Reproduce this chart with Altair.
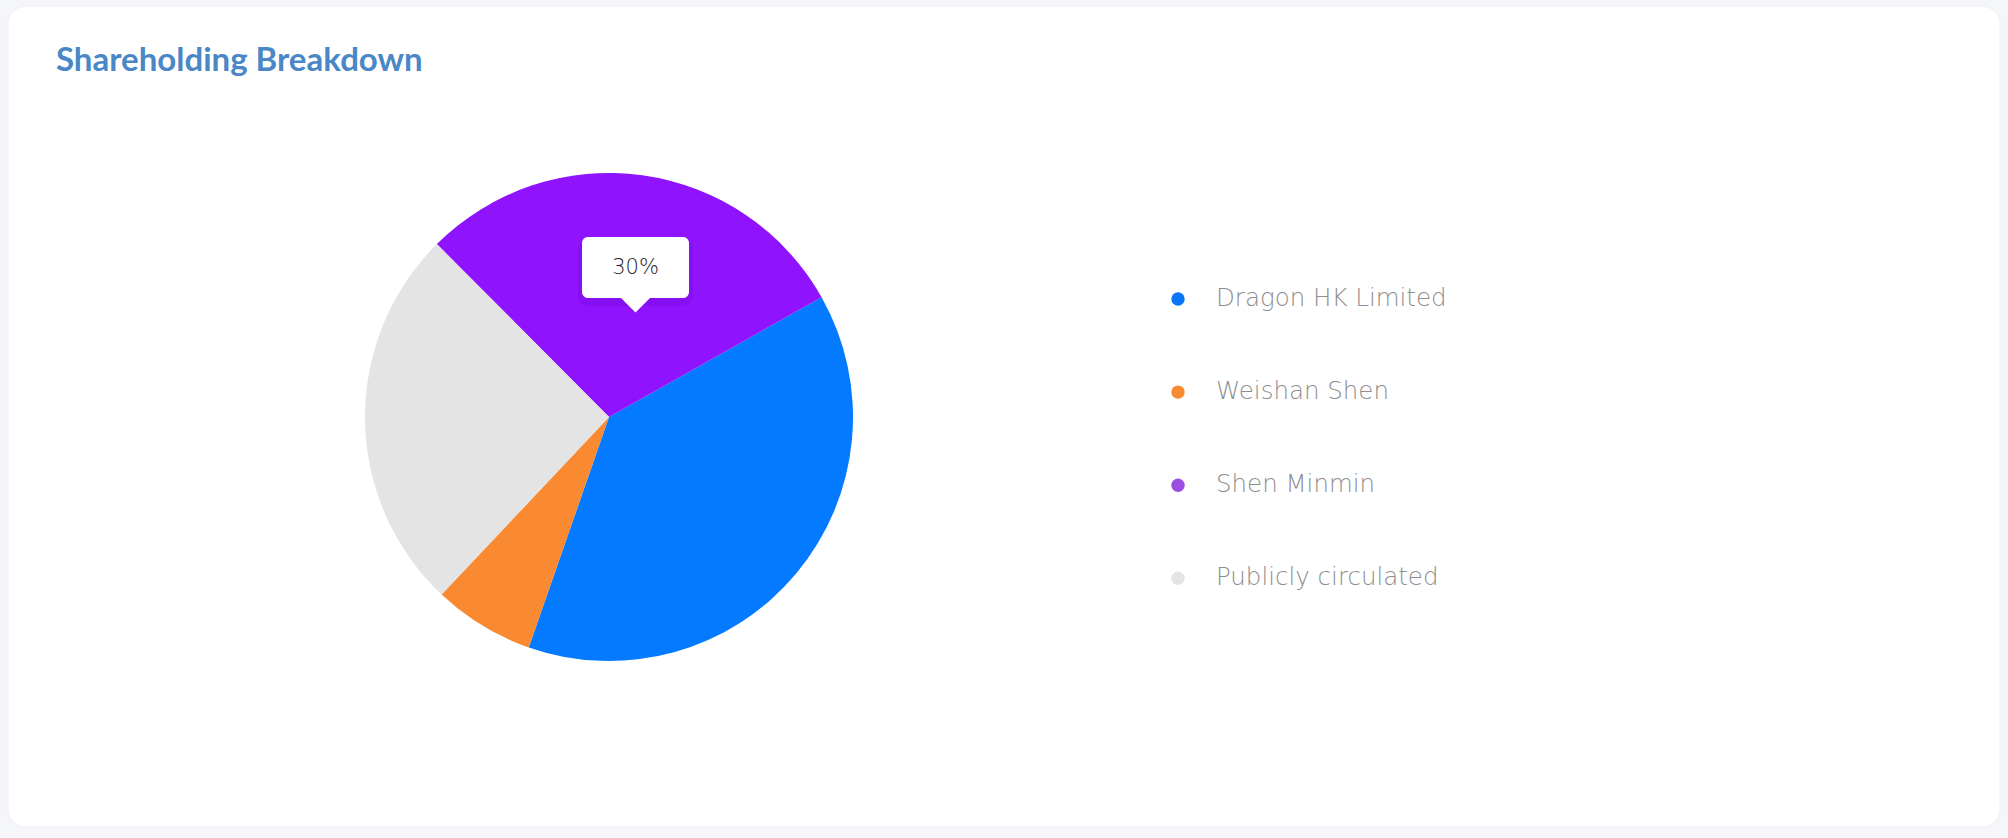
import math
import altair as alt
import pandas as pd

# ---- data ----
names = ["Dragon HK Limited", "Weishan Shen", "Shen Minmin", "Publicly circulated"]
shares = [38.5, 6.7, 29.3, 25.5]
slice_order = [1, 2, 4, 3]
slice_colors = ["#037AFF", "#FA8A32", "#9013FE", "#E4E4E4"]
legend_colors = ["#0A76F6", "#F88A30", "#9B4FE0", "#E4E4E4"]
title_text = "Shareholding Breakdown"
tooltip_label = ["30%"]

W, H = 2008, 838
start = math.radians(60.6)

df = pd.DataFrame({"name": names, "value": shares, "ord": slice_order})
leg = pd.DataFrame({"name": names, "lcolor": legend_colors})

card = alt.Chart(pd.DataFrame({"a": [0]})).mark_rect(
    fill="#FFFFFF", cornerRadius=18, stroke="#EEF0F5", strokeWidth=1
).encode(x=alt.value(8), x2=alt.value(2000), y=alt.value(6), y2=alt.value(827))

title = alt.Chart(pd.DataFrame({"t": [title_text]})).mark_text(
    align="left", baseline="alphabetic", font="Lato", fontWeight="bold",
    fontSize=33, color="#4A87C7"
).encode(x=alt.value(56), y=alt.value(71), text="t:N")

pie = alt.Chart(df).mark_arc(outerRadius=244).encode(
    theta=alt.Theta("value:Q", stack=True,
                    scale=alt.Scale(range=[start, start + 2 * math.pi])),
    order=alt.Order("ord:Q"),
    color=alt.Color("name:N", scale=alt.Scale(domain=names, range=slice_colors), legend=None),
    x=alt.value(609), y=alt.value(417),
)

tipdf = pd.DataFrame({"t": tooltip_label})
tip_shadow = alt.Chart(tipdf).mark_rect(
    fill="#5a00b0", opacity=0.15, cornerRadius=10
).encode(x=alt.value(578), x2=alt.value(693), y=alt.value(239), y2=alt.value(306))
tip_box = alt.Chart(tipdf).mark_rect(fill="#FFFFFF", cornerRadius=6).encode(
    x=alt.value(582), x2=alt.value(689), y=alt.value(237), y2=alt.value(298))
tip_arrow = alt.Chart(tipdf).mark_point(
    shape="M-1,0L1,0L0,1Z", filled=True, fill="#FFFFFF", opacity=1, size=900, strokeWidth=0
).encode(x=alt.value(635.5), y=alt.value(297.5))
tip_text = alt.Chart(tipdf).mark_text(
    font="DejaVu Sans", fontWeight=200, fontSize=21, color="#1E1E1E",
    align="center", baseline="middle"
).encode(x=alt.value(635.5), y=alt.value(268), text="t:N")

yscale = alt.Scale(domain=names, range=[299, 578.3], padding=0)
leg_dots = alt.Chart(leg).mark_circle(size=180, opacity=1).encode(
    x=alt.value(1178),
    y=alt.Y("name:N", scale=yscale, axis=None),
    color=alt.Color("lcolor:N", scale=None, legend=None),
)
leg_text = alt.Chart(leg).mark_text(
    align="left", baseline="middle", font="DejaVu Sans", fontWeight=200,
    fontSize=24.5, color="#8E8E8E"
).encode(
    x=alt.value(1216),
    y=alt.Y("name:N", scale=yscale, axis=None),
    text="name:N",
)

chart = alt.layer(
    card, title, pie, tip_shadow, tip_box, tip_arrow, tip_text, leg_dots, leg_text
).properties(
    width=W, height=H, autosize=alt.AutoSizeParams(type="none"), padding=0,
    background="#F5F6FA"
).configure_view(stroke=None)

chart.save("out.html", embed_options={"renderer": "svg", "actions": False})
